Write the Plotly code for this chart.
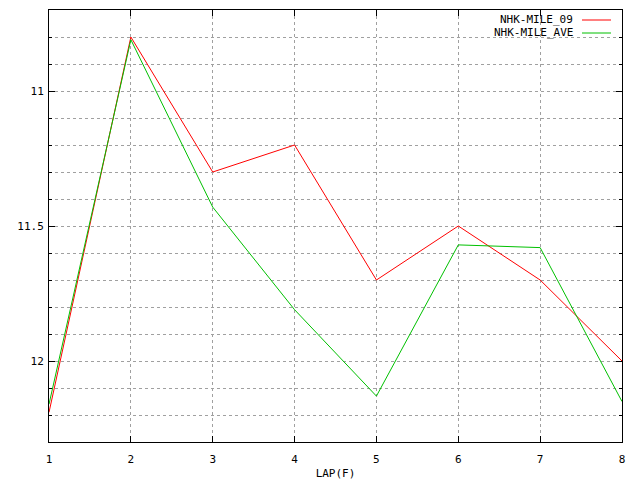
import plotly.graph_objects as go

laps = [1, 2, 3, 4, 5, 6, 7, 8]
nhk_mile_09 = [12.19, 10.8, 11.3, 11.2, 11.7, 11.5, 11.7, 12.0]
nhk_mile_ave = [12.16, 10.81, 11.43, 11.81, 12.13, 11.57, 11.58, 12.15]
series_names = ["NHK-MILE_09", "NHK-MILE_AVE"]
series_colors = ["#ff0000", "#00c000"]
y_ticks = [11, 11.5, 12]

FONT = "DejaVu Sans Mono"

fig = go.Figure()
for name, vals, col in zip(series_names, [nhk_mile_09, nhk_mile_ave], series_colors):
    fig.add_trace(go.Scatter(x=laps, y=vals, mode="lines", name=name,
                             line=dict(color=col, width=1), showlegend=False))

axis_common = dict(showline=True, linecolor="black", linewidth=1, mirror="allticks",
                   ticks="inside", ticklen=6, tickcolor="black",
                   showgrid=True, gridcolor="#a0a0a0", griddash="dot", gridwidth=1,
                   zeroline=False, tickfont=dict(family=FONT, size=11, color="black"))

fig.update_xaxes(range=[1, 8], dtick=1, tick0=1, ticklabelstandoff=7,
                 title=dict(text="LAP(F)", font=dict(family=FONT, size=11, color="black"), standoff=4),
                 **axis_common)
fig.update_yaxes(range=[12.3, 10.7], tickvals=y_ticks, ticktext=[str(v) for v in y_ticks],
                 ticklabelstandoff=2,
                 minor=dict(dtick=0.1, tick0=10.7, ticks="inside", ticklen=3, tickcolor="black",
                            showgrid=True, gridcolor="#a0a0a0", griddash="dot", gridwidth=1),
                 **axis_common)

# gnuplot-style legend: text right aligned, line sample on its right
for i, (name, col) in enumerate(zip(series_names, series_colors)):
    ypos = 1 - (10 + 13 * i) / 432
    fig.add_annotation(xref="paper", yref="paper", x=(575 - 49) / 573, y=ypos,
                       text=name, showarrow=False, xanchor="right", yanchor="middle",
                       font=dict(family=FONT, size=11, color="black"))
    fig.add_shape(type="line", xref="paper", yref="paper",
                  x0=(582 - 49) / 573, x1=(611 - 49) / 573, y0=ypos, y1=ypos,
                  line=dict(color=col, width=1))

fig.update_layout(width=640, height=480, plot_bgcolor="white", paper_bgcolor="white",
                  margin=dict(l=41, r=26, t=2, b=46, autoexpand=False), showlegend=False,
                  font=dict(family=FONT, size=11, color="black"))

fig.write_html("out.html")
